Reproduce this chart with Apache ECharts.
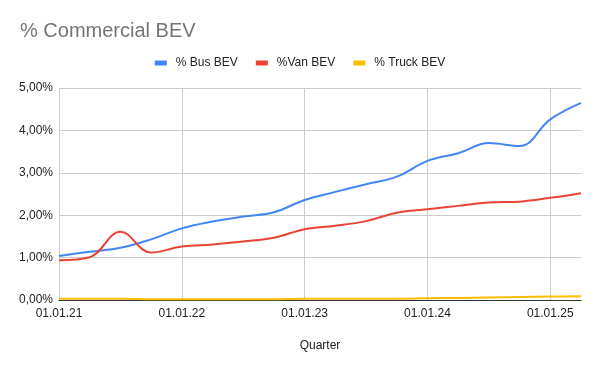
<!DOCTYPE html>
<html><head><meta charset="utf-8">
<script src="https://cdn.jsdelivr.net/npm/echarts@6/dist/echarts.min.js"></script>
<style>html,body{margin:0;padding:0;background:#fff}#c{width:600px;height:371px}</style>
</head><body><div id="c"></div>
<script>
const quarters = ["01.01.21","01.04.21","01.07.21","01.10.21","01.01.22","01.04.22","01.07.22","01.10.22","01.01.23","01.04.23","01.07.23","01.10.23","01.01.24","01.04.24","01.07.24","01.10.24","01.01.25","01.04.25"];
const busBEV = [1.04,1.14,1.23,1.43,1.69,1.85,1.97,2.07,2.36,2.55,2.73,2.91,3.28,3.46,3.70,3.63,4.26,4.65];
const vanBEV = [0.94,1.01,1.61,1.12,1.26,1.31,1.38,1.47,1.67,1.75,1.86,2.06,2.14,2.22,2.30,2.32,2.41,2.52];
const truckBEV = [0.03,0.03,0.03,0.02,0.02,0.02,0.02,0.02,0.03,0.03,0.03,0.03,0.04,0.05,0.06,0.07,0.08,0.09];
const seriesNames = ["% Bus BEV","%Van BEV","% Truck BEV"];
const yTicks = [0,1,2,3,4,5];

const FONT = 'Arial, "Liberation Sans", sans-serif';
const fmt = v => v.toFixed(2).replace('.', ',') + '%';
const chart = echarts.init(document.getElementById('c'), null, {renderer:'canvas'});
const mk = (name, data, color) => ({
  name, type:'line', data, smooth:0.4, symbol:'none',
  lineStyle:{width:2, color}, itemStyle:{color}
});
chart.setOption({
  animation:false,
  title:{text:'% Commercial BEV', left:15, top:16, textStyle:{fontFamily:FONT, fontSize:20, fontWeight:'normal', color:'#757575'}},
  legend:{top:52, left:'center', itemWidth:12, itemHeight:5, itemGap:18, icon:'rect',
    textStyle:{fontFamily:FONT, fontSize:12, color:'#222', padding:[0,0,0,4]}, data:seriesNames},
  grid:{left:59, right:19, top:88, bottom:71},
  xAxis:{type:'category', data:quarters, boundaryGap:false,
    name:'Quarter', nameLocation:'middle', nameGap:40,
    nameTextStyle:{fontFamily:FONT, fontSize:12, color:'#222'},
    axisLine:{show:true, lineStyle:{color:'#333', width:1}}, axisTick:{show:false},
    axisLabel:{interval:3, margin:8, fontFamily:FONT, fontSize:12, color:'#222'},
    splitLine:{show:true, interval:3, lineStyle:{color:'#ccc'}}},
  yAxis:{type:'value', min:yTicks[0], max:yTicks[yTicks.length-1], interval:1,
    axisLine:{show:false}, axisTick:{show:false},
    axisLabel:{formatter:fmt, margin:6, fontFamily:FONT, fontSize:12, color:'#222'},
    splitLine:{lineStyle:{color:'#ccc'}}},
  series:[mk(seriesNames[0], busBEV, '#4285F4'), mk(seriesNames[1], vanBEV, '#EA4335'), mk(seriesNames[2], truckBEV, '#FBBC04')]
});
</script></body></html>
